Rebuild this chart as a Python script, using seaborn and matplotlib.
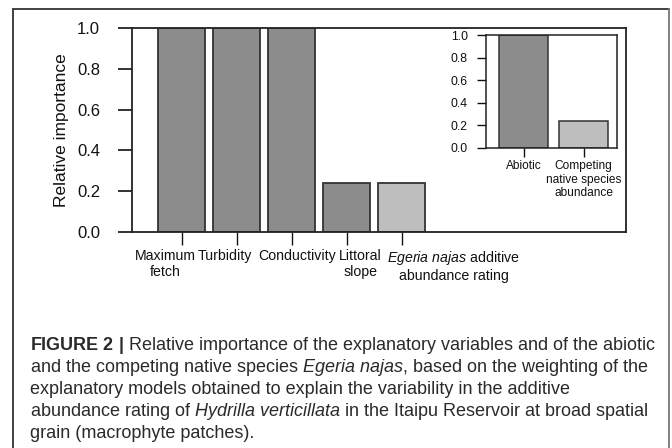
import matplotlib
matplotlib.use("Agg")
import matplotlib.pyplot as plt
import matplotlib.transforms as mtransforms
from matplotlib.lines import Line2D
import seaborn as sns
import pandas as pd

# ---------------- data ----------------
categories = ["Maximum fetch", "Turbidity", "Conductivity", "Littoral slope",
              "Egeria najas additive abundance rating"]
tick_labels = ["Maximum\nfetch", "Turbidity", "Conductivity", "Littoral\nslope",
               "$\\it{Egeria\\ najas}$ additive\nabundance rating"]
values = [1.0, 1.0, 1.0, 0.24, 0.24]
groups = ["abiotic", "abiotic", "abiotic", "abiotic", "biotic"]

inset_categories = ["Abiotic", "Competing native species abundance"]
inset_tick_labels = ["Abiotic", "Competing\nnative species\nabundance"]
inset_values = [1.0, 0.24]
inset_groups = ["abiotic", "biotic"]

yticks = [0.0, 0.2, 0.4, 0.6, 0.8, 1.0]
ylabel = "Relative importance"

caption_lines = [
    "$\\bf{FIGURE\\ 2\\ |}$ Relative importance of the explanatory variables and of the abiotic",
    "and the competing native species $\\it{Egeria\\ najas}$, based on the weighting of the",
    "explanatory models obtained to explain the variability in the additive",
    "abundance rating of $\\it{Hydrilla\\ verticillata}$ in the Itaipu Reservoir at broad spatial",
    "grain (macrophyte patches).",
]

palette = {"abiotic": "#8c8c8c", "biotic": "#bebebe"}

# ---------------- style ----------------
sns.set_theme(style="white")
plt.rcParams["font.family"] = ["Liberation Sans", "DejaVu Sans"]
plt.rcParams["mathtext.fontset"] = "custom"
plt.rcParams["mathtext.rm"] = "Liberation Sans"
plt.rcParams["mathtext.it"] = "Liberation Sans:italic"
plt.rcParams["mathtext.bf"] = "Liberation Sans:bold"

W, H = 672, 448
fig = plt.figure(figsize=(W / 100, H / 100), dpi=100)

def fig_rect(x0, y0, x1, y1):
    return [x0 / W, 1 - y1 / H, (x1 - x0) / W, (y1 - y0) / H]

# ---------------- main axes ----------------
ax = fig.add_axes(fig_rect(132, 28, 626, 232))
df = pd.DataFrame({"cat": categories, "val": values, "grp": groups})
sns.barplot(data=df, x="cat", y="val", hue="grp", palette=palette, dodge=False,
            width=0.84, edgecolor="#333333", linewidth=1.3, legend=False, ax=ax)
ax.set_xlim(-0.9, 8.08)
ax.set_ylim(0, 1)
ax.set_yticks(yticks)
ax.set_yticklabels([f"{v:.1f}" for v in yticks])
ax.set_xticks(range(len(categories)))
ax.set_xticklabels(tick_labels)
ax.set_xlabel("")
ax.set_ylabel(ylabel, fontsize=12.5, color="#111111")
ax.yaxis.set_label_coords(-0.128, 0.5)
for s in ax.spines.values():
    s.set_visible(True)
    s.set_color("#222222")
    s.set_linewidth(1.3)
ax.tick_params(axis="y", direction="out", length=10, width=1.2, pad=13,
               labelsize=12, colors="#111111", left=True)
ax.tick_params(axis="x", direction="out", length=9.4, width=1.0, pad=3,
               labelsize=10.2, colors="#111111", bottom=True)
offsets_px = [-16, -12, 6, 14, 52]
for lab, dx in zip(ax.get_xticklabels(), offsets_px):
    lab.set_transform(lab.get_transform() +
                      mtransforms.ScaledTranslation(dx / 100, 0, fig.dpi_scale_trans))

# ---------------- inset axes ----------------
axi = fig.add_axes(fig_rect(486, 35, 617, 148))
dfi = pd.DataFrame({"cat": inset_categories, "val": inset_values, "grp": inset_groups})
sns.barplot(data=dfi, x="cat", y="val", hue="grp", palette=palette, dodge=False,
            width=0.82, edgecolor="#333333", linewidth=1.1, legend=False, ax=axi)
axi.set_xlim(-0.625, 1.558)
axi.set_ylim(0, 1)
axi.set_yticks(yticks)
axi.set_yticklabels([f"{v:.1f}" for v in yticks])
axi.set_xticks(range(len(inset_categories)))
axi.set_xticklabels(inset_tick_labels)
axi.set_xlabel("")
axi.set_ylabel("")
for s in axi.spines.values():
    s.set_visible(True)
    s.set_color("#222222")
    s.set_linewidth(1.1)
axi.tick_params(axis="y", direction="out", length=6.5, width=1.0, pad=6.5,
                labelsize=8.8, colors="#111111", left=True)
axi.tick_params(axis="x", direction="out", length=6.5, width=1.0, pad=2,
                labelsize=8.6, colors="#111111", bottom=True)

# ---------------- frame ----------------
fig.add_artist(Line2D([13 / W, 13 / W], [0, 1 - 9 / H], transform=fig.transFigure,
                      color="#333333", lw=1.3))
fig.add_artist(Line2D([13 / W, 669 / W], [1 - 9 / H, 1 - 9 / H], transform=fig.transFigure,
                      color="#333333", lw=1.3))
fig.add_artist(Line2D([669 / W, 669 / W], [0, 1 - 9 / H], transform=fig.transFigure,
                      color="#777777", lw=1.3))

# ---------------- caption (fit first line to the frame width) ----------------
renderer = fig.canvas.get_renderer()
probe = fig.text(0, 0, caption_lines[0], fontsize=10)
w10 = probe.get_window_extent(renderer).width
probe.remove()
cap_size = 10 * 628 / w10
base0, pitch = 350, 22
for i, line in enumerate(caption_lines):
    fig.text(30 / W, 1 - (base0 + i * pitch) / H, line, ha="left", va="baseline",
             fontsize=cap_size, color="#2a2a2a")

fig.savefig("out.png", dpi=100)
